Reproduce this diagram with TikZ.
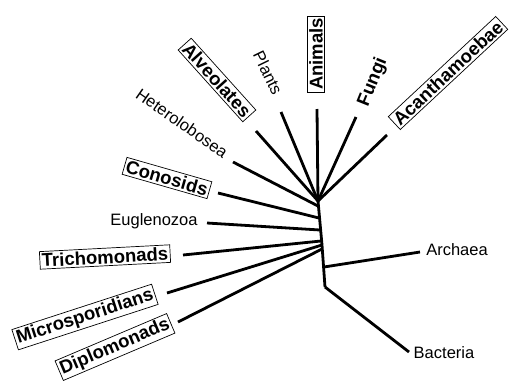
\documentclass[tikz,border=0pt]{standalone}
\usepackage{fontspec}
\setmainfont{Liberation Sans}
\begin{document}
\begin{tikzpicture}[x=1pt,y=-1pt,
  br/.style={line width=2.8pt, line cap=butt, line join=miter},
  lab/.style={font=\fontsize{16.5}{18}\selectfont, inner sep=1pt},
  blab/.style={font=\bfseries\fontsize{18.5}{20}\selectfont, inner sep=1pt},
  boxed/.style={blab, draw, line width=0.7pt, inner sep=2pt}]
\useasboundingbox (0,0) rectangle (516,381);
% labels
\node[boxed, rotate=-48] (alv) at (217,80) {Alveolates};
\node[lab, rotate=-64] (pla) at (268,73) {Plants};
\node[boxed, rotate=90] (ani) at (316,54) {Animals};
\node[blab, rotate=68] (fun) at (373,82) {Fungi};
\node[boxed, rotate=43] (aca) at (448,73) {Acanthamoebae};
\node[lab, rotate=-35] (het) at (182,123) {Heterolobosea};
\node[boxed, rotate=-16] (con) at (167,178) {Conosids};
\node[lab] (eug) at (154,221) {Euglenozoa};
\node[boxed, rotate=3] (tri) at (105,257) {Trichomonads};
\node[boxed, rotate=18] (mic) at (85,317) {Microsporidians};
\node[boxed, rotate=23] (dip) at (115,347) {Diplomonads};
\node[lab] (arc) at (457,250) {Archaea};
\node[lab] (bac) at (444,353) {Bacteria};
% tree points
\coordinate (crown) at (318,201);
\coordinate (jhet) at (318,206);
\coordinate (jcon) at (319,218);
\coordinate (jeug) at (320,230);
\coordinate (jtri) at (321,241);
\coordinate (jmic) at (322,245);
\coordinate (jdip) at (322,249);
\coordinate (jarc) at (324,267);
\coordinate (root) at (325,287);
% branch tips
\coordinate (talv) at (256,131);
\coordinate (tpla) at (281,112);
\coordinate (tani) at (317,109);
\coordinate (tfun) at (356,117);
\coordinate (taca) at (387,135);
\coordinate (thet) at (233,162);
\coordinate (tcon) at (218,193);
\coordinate (teug) at (207,223);
\coordinate (ttri) at (183,255);
\coordinate (tmic) at (167,293);
\coordinate (tdip) at (178,322);
\coordinate (tarc) at (420,252);
\coordinate (tbac) at (409,352);
% trunk
\draw[br] (crown) -- (jmic) -- (root);
% branches
\draw[br] (crown) -- (talv);
\draw[br] (crown) -- (tpla);
\draw[br] (crown) -- (tani);
\draw[br] (crown) -- (tfun);
\draw[br] (crown) -- (taca);
\draw[br] (jhet) -- (thet);
\draw[br] (jcon) -- (tcon);
\draw[br] (jeug) -- (teug);
\draw[br] (jtri) -- (ttri);
\draw[br] (jmic) -- (tmic);
\draw[br] (jdip) -- (tdip);
\draw[br] (jarc) -- (tarc);
\draw[br] (root) -- (tbac);
\end{tikzpicture}
\end{document}
